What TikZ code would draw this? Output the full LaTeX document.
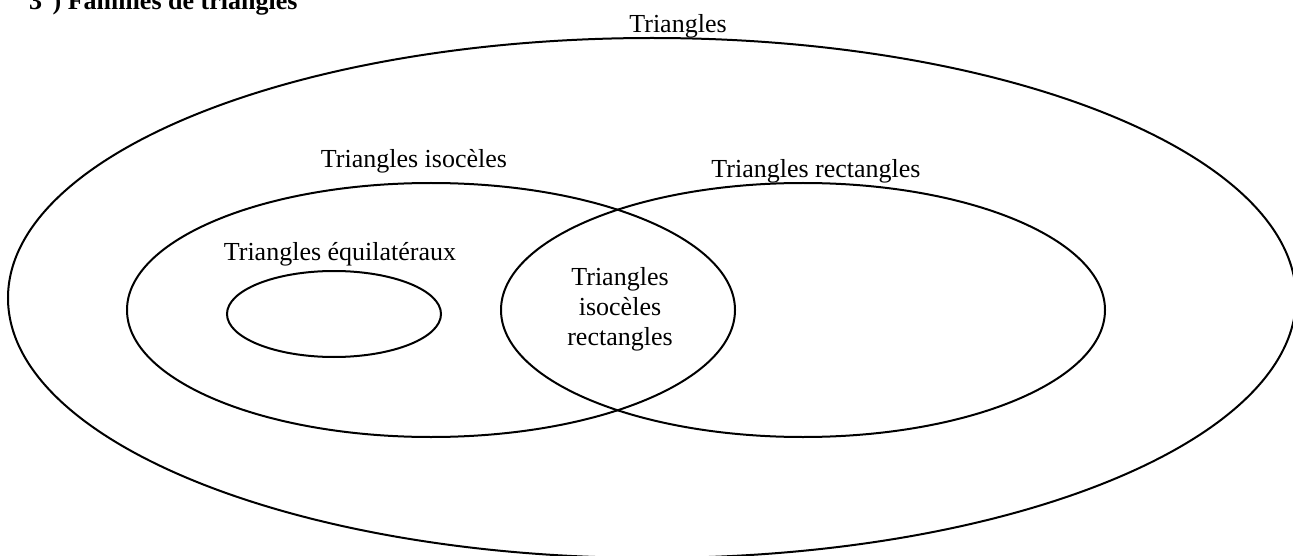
\documentclass[tikz,border=0pt]{standalone}
\usepackage{fontspec}
\setmainfont{Liberation Serif}
\usetikzlibrary{shapes.geometric}

\begin{document}
\begin{tikzpicture}[
        x=1pt, y=-1pt,
        famille/.style={ellipse, draw=black, line width=2pt, inner sep=0pt},
        etiquette/.style={inner sep=0pt, anchor=base, font=\fontsize{26}{30}\selectfont}
    ]
    \useasboundingbox (0,0) rectangle (1293,556);

    % Title
    \node (titre) [inner sep=0pt, anchor=base west, font=\fontsize{26}{30}\selectfont\bfseries] at (29,10) {3°) Familles de triangles};

    % Families
    \node (tous) [famille, minimum width=1288pt, minimum height=520pt] at (652,298) {};
    \node (isoceles) [famille, minimum width=608pt, minimum height=254pt] at (431,310) {};
    \node (rectangles) [famille, minimum width=604pt, minimum height=254pt] at (803,310) {};
    \node (equilateraux) [famille, minimum width=214pt, minimum height=86pt] at (334,314) {};

    % Labels
    \node (lbltous) [etiquette] at (678,33) {Triangles};
    \node (lbliso) [etiquette] at (414,168) {Triangles isocèles};
    \node (lblrect) [etiquette] at (816,178) {Triangles rectangles};
    \node (lblequi) [etiquette] at (340,260) {Triangles équilatéraux};
    \node (lblisorect) [etiquette, anchor=center, align=center] at (620,309) {Triangles\\isocèles\\rectangles};
\end{tikzpicture}
\end{document}
